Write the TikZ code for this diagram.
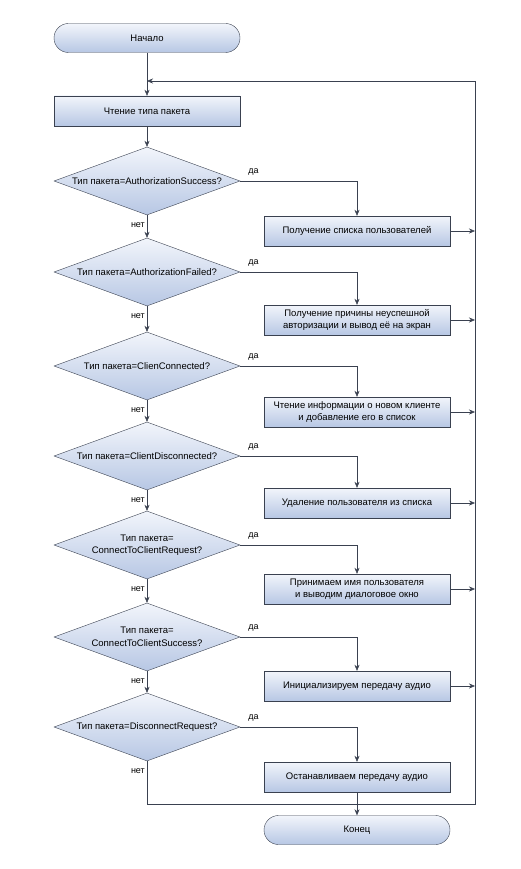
\documentclass[tikz,border=0pt]{standalone}
\usepackage{fontspec}
\setmainfont{Liberation Sans}
\usetikzlibrary{shapes.geometric,arrows.meta}
\definecolor{edgec}{HTML}{3A4150}
\definecolor{ftop}{HTML}{F2F5FB}
\definecolor{fbot}{HTML}{B7C7E4}
\tikzset{
  proc/.style={draw=edgec, top color=ftop, bottom color=fbot, minimum width=186pt, minimum height=30pt, inner sep=1pt, align=center, font=\fontsize{9.5}{12.5}\selectfont},
  term/.style={proc, rounded corners=14.5pt, minimum height=29pt},
  dec/.style={diamond, draw=edgec, top color=ftop, bottom color=fbot, minimum width=186pt, minimum height=68pt, inner sep=0pt, aspect=2.7, align=center, font=\fontsize{9.5}{12.5}\selectfont},
  flow/.style={draw=edgec, -{Stealth[length=6pt,width=5pt]}},
  yes/.style={pos=0, anchor=south west, xshift=7pt, yshift=5pt, inner sep=1pt, font=\fontsize{9}{10}\selectfont},
  no/.style={pos=0, anchor=north east, xshift=-1pt, yshift=-6pt, inner sep=1pt, font=\fontsize{9}{10}\selectfont}
}
\begin{document}
\begin{tikzpicture}[x=1pt,y=-1pt]
\useasboundingbox (0,0) rectangle (521,869);
\node[term] (start) at (147,38) {Начало};
\node[proc] (read) at (147,111) {Чтение типа пакета};
\node[dec] (d1) at (147,181) {Тип пакета=AuthorizationSuccess?};
\node[proc] (b1) at (357,231) {Получение списка пользователей};
\node[dec] (d2) at (147,272) {Тип пакета=AuthorizationFailed?};
\node[proc] (b2) at (357,320) {Получение причины неуспешной\\авторизации и вывод её на экран};
\node[dec] (d3) at (147,366) {Тип пакета=ClienConnected?};
\node[proc] (b3) at (357,412) {Чтение информации о новом клиенте\\и добавление его в список};
\node[dec] (d4) at (147,456) {Тип пакета=ClientDisconnected?};
\node[proc] (b4) at (357,503) {Удаление пользователя из списка};
\node[dec] (d5) at (147,545) {Тип пакета=\\ConnectToClientRequest?};
\node[proc] (b5) at (357,589) {Принимаем имя пользователя\\и выводим диалоговое окно};
\node[dec] (d6) at (147,637) {Тип пакета=\\ConnectToClientSuccess?};
\node[proc] (b6) at (357,686) {Инициализируем передачу аудио};
\node[dec] (d7) at (147,727) {Тип пакета=DisconnectRequest?};
\node[proc] (b7) at (357,777) {Останавливаем передачу аудио};
\node[term] (end) at (357,830) {Конец};
\coordinate (loop) at (147,81);
\coordinate (rtop) at (475,81);
\coordinate (rbot) at (475,804);

\draw[flow] (start) -- (read);
\draw[flow] (read) -- (d1);
\foreach \d/\b in {d1/b1,d2/b2,d3/b3,d4/b4,d5/b5,d6/b6,d7/b7}{
  \draw[flow] (\d.east) -| node[yes]{да} (\b.north);
}
\foreach \b in {b1,b2,b3,b4,b5,b6}{
  \draw[flow] (\b.east) -- (\b.east -| rtop);
}
\draw[flow] (d1.south) -- node[no]{нет} (d2.north);
\draw[flow] (d2.south) -- node[no]{нет} (d3.north);
\draw[flow] (d3.south) -- node[no]{нет} (d4.north);
\draw[flow] (d4.south) -- node[no]{нет} (d5.north);
\draw[flow] (d5.south) -- node[no]{нет} (d6.north);
\draw[flow] (d6.south) -- node[no]{нет} (d7.north);
\draw[flow] (d7.south) |- node[no]{нет} (rbot) |- (loop);
\draw[flow] (b7) -- (end);
\end{tikzpicture}
\end{document}
